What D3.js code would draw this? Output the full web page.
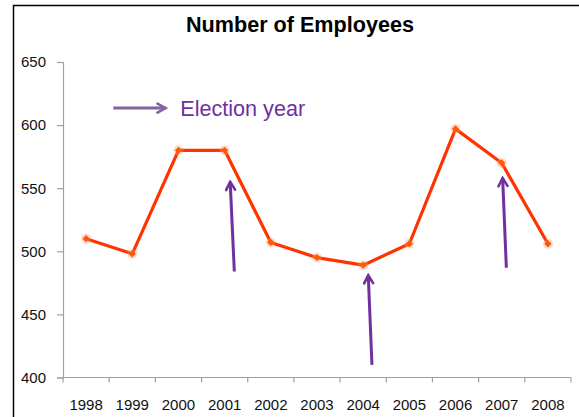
<!DOCTYPE html>
<html>
<head>
<meta charset="utf-8">
<script src="https://cdn.jsdelivr.net/npm/d3@7"></script>
<style>
  body { margin: 0; background: #fff; }
  svg { display: block; font-family: "Liberation Sans", Arial, sans-serif; }
</style>
</head>
<body>
<div id="chart"></div>
<script>
const years = ['1998', '1999', '2000', '2001', '2002', '2003', '2004', '2005', '2006', '2007', '2008'];
const employees = [510, 498, 580, 580, 507, 495, 489, 506, 597, 570, 506];
const yTicks = [400, 450, 500, 550, 600, 650];

// election arrows: year, offset inside band (head / tail), value at head / tail
const arrowYears = ['2001', '2004', '2007'];
const arrowHeadOff = [0.62, 0.61, 0.52];
const arrowTailOff = [0.71, 0.69, 0.60];
const arrowHeadVal = [555, 481, 558];
const arrowTailVal = [484, 410, 487];

const width = 579;
const height = 417;

const svg = d3.select('#chart')
  .append('svg')
  .attr('width', width)
  .attr('height', height);

// outer chart frame
svg.append('rect')
  .attr('x', 13.5)
  .attr('y', 5.5)
  .attr('width', width + 20)
  .attr('height', height + 20)
  .attr('fill', 'none')
  .attr('stroke', '#000')
  .attr('stroke-width', 1.5);

const x = d3.scaleBand()
  .domain(years)
  .range([63, 571]);

const y = d3.scaleLinear()
  .domain([400, 650])
  .range([377.5, 62]);

// position in band units from the left of the plot
const xPos = (i) => x.range()[0] + i * x.step();

// axes
const yAxis = svg.append('g')
  .attr('transform', 'translate(63,0)')
  .call(d3.axisLeft(y).tickValues(yTicks).tickSize(6).tickPadding(11));

const xAxis = svg.append('g')
  .attr('transform', 'translate(0,377.5)')
  .call(d3.axisBottom(x).tickSize(0).tickPadding(22));

// x ticks sit on the band boundaries
xAxis.selectAll('.boundary')
  .data(d3.range(years.length + 1))
  .enter()
  .append('line')
  .attr('class', 'boundary')
  .attr('x1', d => xPos(d))
  .attr('x2', d => xPos(d))
  .attr('y1', 0)
  .attr('y2', 5)
  .attr('stroke', '#a0a0a0')
  .attr('stroke-width', 1.2);

[xAxis, yAxis].forEach(g => {
  g.select('.domain').attr('stroke', '#a0a0a0').attr('stroke-width', 1.2);
  g.selectAll('.tick line').attr('stroke', '#a0a0a0').attr('stroke-width', 1.2);
  g.selectAll('.tick text')
    .attr('fill', '#111')
    .style('font-size', '15px')
    .style('font-family', '"Liberation Sans", Arial, sans-serif');
});
xAxis.select('.domain').attr('d', `M${xPos(0)},0H${xPos(years.length)}`);

// title
svg.append('text')
  .attr('x', 300)
  .attr('y', 32)
  .attr('text-anchor', 'middle')
  .style('font-size', '21.6px')
  .style('font-weight', 'bold')
  .attr('fill', '#000')
  .text('Number of Employees');

// line
const line = d3.line()
  .x((d, i) => x(years[i]) + x.bandwidth() / 2)
  .y(d => y(d));

svg.append('path')
  .datum(employees)
  .attr('d', line)
  .attr('fill', 'none')
  .attr('stroke', '#ff3300')
  .attr('stroke-width', 3.2)
  .attr('stroke-linejoin', 'round');

// diamond markers with soft glow
svg.selectAll('.glow')
  .data(employees)
  .enter()
  .append('circle')
  .attr('class', 'glow')
  .attr('cx', (d, i) => x(years[i]) + x.bandwidth() / 2)
  .attr('cy', d => y(d))
  .attr('r', 5)
  .attr('fill', '#ff9966')
  .attr('opacity', 0.35);

svg.selectAll('.pt')
  .data(employees)
  .enter()
  .append('path')
  .attr('class', 'pt')
  .attr('d', d3.symbol().type(d3.symbolDiamond2).size(34))
  .attr('transform', (d, i) => `translate(${x(years[i]) + x.bandwidth() / 2},${y(d)})`)
  .attr('fill', '#ff5a0a');

// arrow heads
const defs = svg.append('defs');
const addHead = (id, color) => {
  defs.append('marker')
    .attr('id', id)
    .attr('viewBox', '-10 -6 12 12')
    .attr('refX', 0)
    .attr('refY', 0)
    .attr('markerWidth', 12)
    .attr('markerHeight', 12)
    .attr('markerUnits', 'userSpaceOnUse')
    .attr('orient', 'auto')
    .append('path')
    .attr('d', 'M-8,-4.5L0,0L-8,4.5')
    .attr('fill', 'none')
    .attr('stroke', color)
    .attr('stroke-width', 2.6)
    .attr('stroke-linecap', 'round');
};
addHead('headDark', '#7030a0');
addHead('headLight', '#8064a2');

// election year arrows
svg.selectAll('.elect')
  .data(arrowYears)
  .enter()
  .append('line')
  .attr('class', 'elect')
  .attr('x1', (d, i) => x(d) + arrowTailOff[i] * x.step())
  .attr('y1', (d, i) => y(arrowTailVal[i]))
  .attr('x2', (d, i) => x(d) + arrowHeadOff[i] * x.step())
  .attr('y2', (d, i) => y(arrowHeadVal[i]))
  .attr('stroke', '#7030a0')
  .attr('stroke-width', 3)
  .attr('marker-end', 'url(#headDark)');

// legend
svg.append('line')
  .attr('x1', xPos(1.09))
  .attr('x2', xPos(2.22))
  .attr('y1', y(613.5))
  .attr('y2', y(613.5))
  .attr('stroke', '#8064a2')
  .attr('stroke-width', 3)
  .attr('marker-end', 'url(#headLight)');

svg.append('text')
  .attr('x', xPos(2.54))
  .attr('y', 116)
  .style('font-size', '21.6px')
  .attr('fill', '#7030a0')
  .text('Election year');
</script>
</body>
</html>
